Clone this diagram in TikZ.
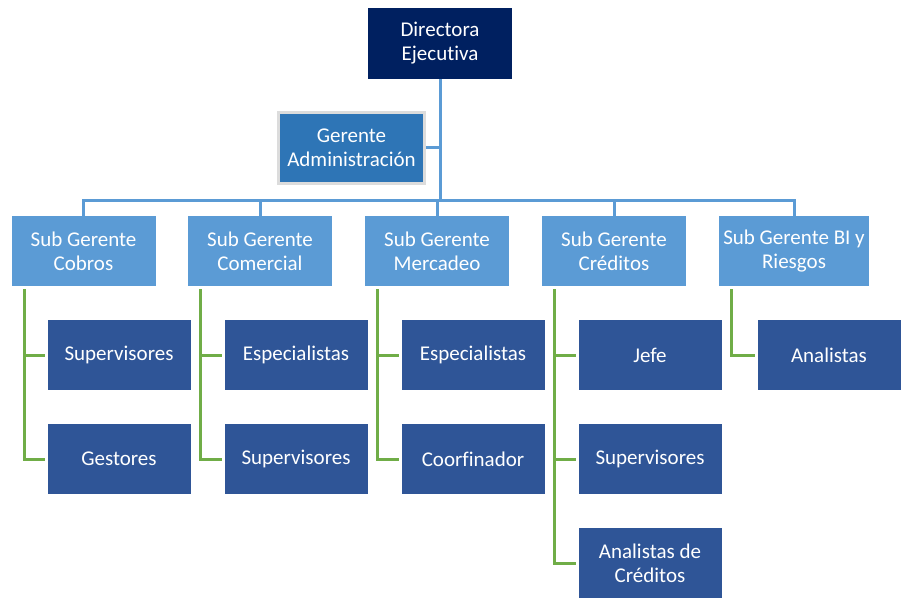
\documentclass[tikz,border=0pt]{standalone}
\usepackage{fontspec}
\setmainfont[Ligatures=NoCommon]{Carlito}
\usepackage{tikz}
\definecolor{azulosc}{HTML}{002060}
\definecolor{azulger}{HTML}{2E75B6}
\definecolor{azulsub}{HTML}{5B9BD5}
\definecolor{azulhij}{HTML}{2F5597}
\definecolor{verde}{HTML}{70AD47}
\definecolor{grisb}{HTML}{DCDCDC}
\tikzset{
  caja/.style={rectangle, minimum width=144, minimum height=71, align=center,
    text=white, inner sep=0pt, font=\fontsize{21}{24}\selectfont},
  directora/.style={caja, fill=azulosc},
  gerente/.style={caja, fill=azulger, draw=grisb, line width=3, minimum width=146},
  subger/.style={caja, fill=azulsub, minimum height=70},
  hijo/.style={caja, fill=azulhij, minimum width=143, minimum height=70},
  linea/.style={draw=azulsub, line width=3},
  rama/.style={draw=verde, line width=3}
}
\begin{document}
\begin{tikzpicture}[x=1pt,y=-1pt]
\useasboundingbox (0,0) rectangle (901,597);
\node[directora] (dir) at (440,43.5) {Directora\\Ejecutiva};
\node[gerente] (ger) at (351.5,147.5) {Gerente\\Administración};
\coordinate (bus) at (440,200);

\node[subger] (s1) at (83.5,251) {Sub Gerente\\Cobros};
\node[subger] (s2) at (260,251) {Sub Gerente\\Comercial};
\node[subger] (s3) at (437,251) {Sub Gerente\\Mercadeo};
\node[subger] (s4) at (614,251) {Sub Gerente\\Créditos};
\node[subger, minimum width=150] (s5) at (794,251) {Sub Gerente BI y\\Riesgos};

\node[hijo] (c11) at (119,355) {Supervisores};
\node[hijo] (c12) at (119,459) {Gestores};
\node[hijo] (c21) at (296,355) {Especialistas};
\node[hijo] (c22) at (296,459) {Supervisores};
\node[hijo] (c31) at (473,355) {Especialistas};
\node[hijo] (c32) at (473,459) {Coorfinador};
\node[hijo] (c41) at (650,355) {Jefe};
\node[hijo] (c42) at (650,459) {Supervisores};
\node[hijo] (c43) at (650,563) {Analistas de\\Créditos};
\node[hijo] (c51) at (829,355) {Analistas};

\draw[linea] (dir.south) -- (bus);
\draw[linea] (ger.east) -- (ger.east -| bus);
\draw[linea] (s1.north) |- (bus) -| (s5.north);
\draw[linea] (s2.north) -- (s2.north |- bus);
\draw[linea] (s3.north) -- (s3.north |- bus);
\draw[linea] (s4.north) -- (s4.north |- bus);

\draw[rama] ([xshift=13,yshift=-3]s1.south west) |- ([xshift=-2]c11.west);
\draw[rama] ([xshift=13,yshift=-3]s1.south west) |- ([xshift=-2]c12.west);
\draw[rama] ([xshift=13,yshift=-3]s2.south west) |- ([xshift=-2]c21.west);
\draw[rama] ([xshift=13,yshift=-3]s2.south west) |- ([xshift=-2]c22.west);
\draw[rama] ([xshift=13,yshift=-3]s3.south west) |- ([xshift=-2]c31.west);
\draw[rama] ([xshift=13,yshift=-3]s3.south west) |- ([xshift=-2]c32.west);
\draw[rama] ([xshift=13,yshift=-3]s4.south west) |- ([xshift=-2]c41.west);
\draw[rama] ([xshift=13,yshift=-3]s4.south west) |- ([xshift=-2]c42.west);
\draw[rama] ([xshift=13,yshift=-3]s4.south west) |- ([xshift=-2]c43.west);
\draw[rama] ([xshift=13,yshift=-3]s5.south west) |- ([xshift=-2]c51.west);
\end{tikzpicture}
\end{document}
